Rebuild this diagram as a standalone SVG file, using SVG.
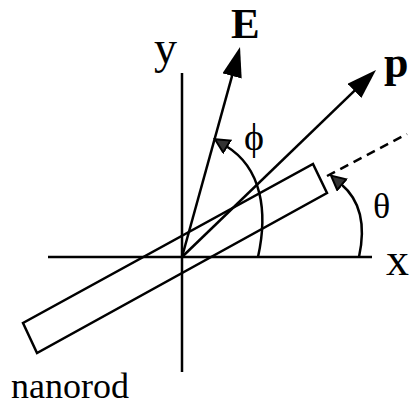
<svg xmlns="http://www.w3.org/2000/svg" width="415" height="406" viewBox="0 0 415 406">
<style>
.ln{stroke:#000;stroke-width:2.5;fill:none}
.t{font-family:"Liberation Serif","Times New Roman",serif;fill:#000}
.b{font-weight:bold}
</style>
<defs>
<marker id="big" markerUnits="userSpaceOnUse" orient="auto" markerWidth="32" markerHeight="22" refX="10" refY="10" viewBox="0 0 32 22">
<path d="M0,0 L30,10 L0,20 Z" fill="#000"/>
</marker>
<marker id="small" markerUnits="userSpaceOnUse" orient="auto" markerWidth="18" markerHeight="18" refX="2" refY="8" viewBox="0 0 18 18">
<path d="M1,1 L15,8 L1,15 Z" fill="#333" stroke="#000" stroke-width="2"/>
</marker>
</defs>
<rect width="415" height="406" fill="#fff"/>
<g id="axes">
<line class="ln" x1="48" y1="257" x2="372" y2="257"/>
<line class="ln" x1="182" y1="73" x2="182" y2="372"/>
</g>
<g id="nanorod">
<polygon class="ln" points="23,323 37,353 327,193 313,164"/>
</g>
<g id="connectors">
<line class="ln" x1="182" y1="257" x2="234.7" y2="66.3" marker-end="url(#big)"/>
<line class="ln" x1="182" y1="257" x2="361.6" y2="83.9" marker-end="url(#big)"/>
<line class="ln" x1="327" y1="176" x2="407" y2="134" stroke-dasharray="9,6"/>
<path class="ln" d="M258,257 C268,212 262,168 226,146" marker-end="url(#small)"/>
<path class="ln" d="M359,257 C366,225 360,200 341,184" marker-end="url(#small)"/>
</g>
<g id="labels">
<text class="t b" x="231" y="38" font-size="43">E</text>
<text class="t" x="154" y="63" font-size="46">y</text>
<text class="t b" x="384" y="77" font-size="44">p</text>
<text class="t" x="386" y="275" font-size="46">x</text>
<text class="t" x="244" y="150" font-size="38">ϕ</text>
<text class="t" x="373" y="218" font-size="36">θ</text>
<text class="t" x="11" y="398" font-size="36">nanorod</text>
</g>
</svg>
